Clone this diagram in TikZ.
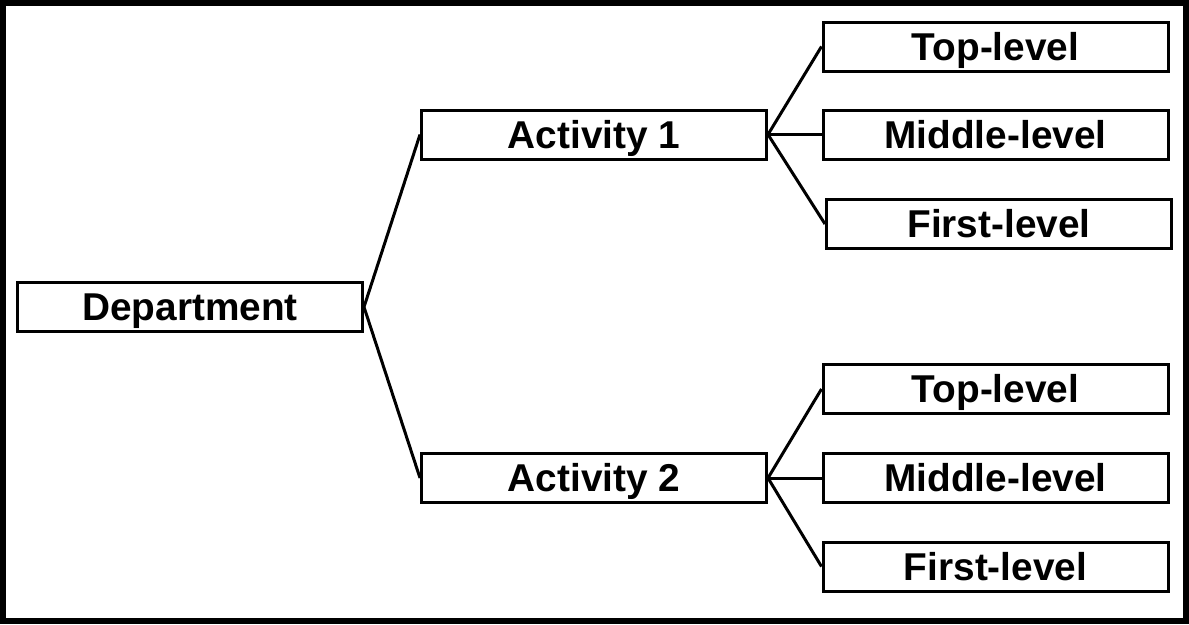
\documentclass[tikz,border=0pt]{standalone}
\usepackage{fontspec}
\setmainfont{Liberation Sans}
\usetikzlibrary{shadows}
\begin{document}
\begin{tikzpicture}[x=1pt,y=-1pt,
  box/.style={draw=black, line width=3pt, fill=white, rectangle,
    minimum width=345pt, minimum height=49pt, inner sep=0pt,
    font=\fontsize{38.8}{40}\selectfont\bfseries, text height=27.6pt, text depth=0pt,
    drop shadow={shadow xshift=1.5pt, shadow yshift=-1.5pt, fill=black!45, opacity=0.6}},
  link/.style={draw=black, line width=3pt}]
\useasboundingbox (0,0) rectangle (1189,624);
\draw[line width=6pt] (3,3) rectangle (1186,621);
\node[box] (dep) at (190,307) {Department};
\node[box] (a1) at (594,134.5) {Activity 1};
\node[box] (a2) at (594,478) {Activity 2};
\node[box] (t1) at (995.5,46.5) {Top-level};
\node[box] (m1) at (995.5,134.5) {Middle-level};
\node[box] (f1) at (999,224) {First-level};
\node[box] (t2) at (995.5,389) {Top-level};
\node[box] (m2) at (995.5,478) {Middle-level};
\node[box] (f2) at (995.5,566.5) {First-level};
\draw[link] (dep.east) -- (a1.west);
\draw[link] (dep.east) -- (a2.west);
\draw[link] (a1.east) -- (t1.west);
\draw[link] (a1.east) -- (m1.west);
\draw[link] (a1.east) -- (f1.west);
\draw[link] (a2.east) -- (t2.west);
\draw[link] (a2.east) -- (m2.west);
\draw[link] (a2.east) -- (f2.west);
\end{tikzpicture}
\end{document}
